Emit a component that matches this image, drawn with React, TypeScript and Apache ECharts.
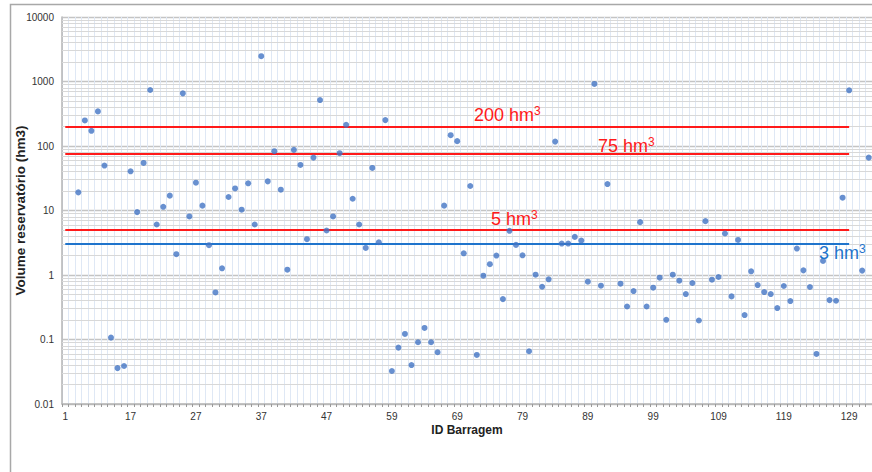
import React, { useEffect, useRef } from "react";
import * as echarts from "echarts";

// Dam IDs (category axis), one per column of the chart
const damIds: number[] = [
  1, 8, 9, 10, 11, 12, 13, 14, 15, 16,
  17, 18, 19, 20, 21, 22, 23, 24, 25, 26,
  27, 28, 29, 30, 31, 32, 33, 34, 35, 36,
  37, 38, 39, 40, 41, 42, 43, 44, 45, 46,
  47, 48, 49, 50, 51, 53, 54, 55, 56, 58,
  59, 60, 61, 62, 63, 64, 65, 66, 67, 68,
  69, 70, 71, 72, 73, 74, 75, 76, 77, 78,
  79, 80, 81, 82, 83, 84, 85, 86, 87, 88,
  89, 90, 91, 92, 93, 94, 95, 96, 97, 98,
  99, 100, 101, 102, 103, 104, 105, 106, 107, 108,
  109, 110, 111, 112, 113, 114, 115, 116, 117, 118,
  119, 120, 121, 122, 123, 124, 125, 126, 127, 128,
  129, 130, 131, 132,
];

// Reservoir volume (hm3) per dam, same order as damIds
const volumes: (number | null)[] = [
  null, null, 19.1, 249, 172, 344, 49.7, 0.107, 0.036, 0.0388,
  40.5, 9.44, 54.6, 738, 6.07, 11.4, 17.0, 2.1, 655, 8.09,
  27.0, 11.9, 2.9, 0.537, 1.27, 16.2, 22.0, 10.3, 26.4, 6.07,
  2466, 28.3, 83, 21.0, 1.21, 87, 50.9, 3.59, 66.1, 516,
  4.9, 8.09, 77.3, 213, 15.2, 6.07, 2.63, 45.7, 3.22, 252,
  0.0325, 0.0749, 0.122, 0.0402, 0.0906, 0.151, 0.0906, 0.0634, 11.9, 147,
  119, 2.17, 24, 0.0576, 0.976, 1.47, 2.0, 0.423, 4.84, 2.93,
  2.02, 0.0657, 1.01, 0.658, 0.857, 117, 3.07, 3.07, 3.9, 3.42,
  0.787, 916, 0.682, 25.7, null, 0.733, 0.325, 0.564, 6.6, 0.325,
  0.635, 0.909, 0.202, 1.01, 0.816, 0.506, 0.751, 0.197, 6.84, 0.846,
  0.931, 4.4, 0.466, 3.5, 0.239, 1.14, 0.699, 0.544, 0.506, 0.307,
  0.675, 0.394, 2.57, 1.18, 0.651, 0.0597, 1.65, 0.408, 0.399, 15.8,
  730, null, 1.17, 66,
];

// Threshold lines (hm3)
const redThresholds: number[] = [200, 75, 5];
const blueThresholds: number[] = [3];
const thresholdStartId = "1";
const thresholdEndId = "129";

// Log axis decades
const decadeExponents: number[] = [-2, -1, 0, 1, 2, 3];
const minorMultipliers: number[] = [2, 3, 4, 5, 6, 7, 8, 9];

const FONT = "'Liberation Sans', Arial, Helvetica, sans-serif";
const RED = "#ff1a1a";
const BLUE = "#1f74cc";

export default function App() {
  const ref = useRef<HTMLDivElement>(null);

  useEffect(() => {
    if (!ref.current) return;
    const chart = echarts.init(ref.current, undefined, { renderer: "svg" });

    const minorVals: number[] = [];
    decadeExponents.forEach((e) =>
      minorMultipliers.forEach((m) => minorVals.push(+(m * Math.pow(10, e)).toPrecision(3)))
    );

    const refLine = (v: number, color: string) => [
      { coord: [thresholdStartId, v], lineStyle: { color, width: 2, type: "solid" } },
      { coord: [thresholdEndId, v] },
    ];

    const fmt = (v: number) => {
      if (v >= 1) return String(Math.round(v));
      return String(+v.toPrecision(1));
    };

    const annot = (text: string, x: number, y: number, color: string) => ({
      type: "text",
      z: 20,
      x,
      y,
      style: {
        text: `{b|${text}}{s|3}`,
        fill: color,
        fontFamily: FONT,
        verticalAlign: "middle",
        rich: {
          b: { fontSize: 18, fill: color, fontFamily: FONT, lineHeight: 20 },
          s: { fontSize: 12, fill: color, fontFamily: FONT, lineHeight: 20, verticalAlign: "top", padding: [0, 0, 6, 0] },
        },
      },
    });

    const option: any = {
      animation: false,
      textStyle: { fontFamily: FONT },
      grid: { left: 62, right: 0, top: 17, bottom: 68, containLabel: false, outerBoundsMode: "none" },
      xAxis: {
        type: "category",
        data: damIds.map(String),
        boundaryGap: true,
        name: "ID Barragem",
        nameLocation: "middle",
        nameGap: 20,
        nameMoveOverlap: false,
        nameTextStyle: { fontWeight: "bold", fontSize: 12, color: "#222", fontFamily: FONT },
        axisLine: { onZero: false, lineStyle: { color: "#b4b4b4", width: 1.5 } },
        axisTick: { show: true, interval: 0, length: 3, lineStyle: { color: "#9a9a9a" } },
        axisLabel: { interval: 9, color: "#333", fontSize: 10, margin: 7, fontFamily: FONT },
        splitLine: { show: true, interval: 0, lineStyle: { color: "#dfe8f5", width: 1 } },
      },
      yAxis: {
        type: "log",
        logBase: 10,
        min: 0.01,
        max: 10000,
        splitNumber: 6,
        name: "Volume reservatório (hm3)",
        nameLocation: "middle",
        nameGap: 35,
        nameMoveOverlap: false,
        nameTextStyle: { fontWeight: "bold", fontSize: 13.5, color: "#222", fontFamily: FONT },
        axisLine: { show: true, lineStyle: { color: "#b4b4b4", width: 1.5 } },
        axisTick: { show: false },
        axisLabel: { color: "#333", fontSize: 10, margin: 8, formatter: fmt, fontFamily: FONT },
        splitLine: { show: true, lineStyle: { color: "#c4c4c4", width: 1.3 } },
      },
      series: [
        {
          type: "line",
          name: "minorGrid",
          data: [],
          z: 1,
          silent: true,
          markLine: {
            silent: true,
            symbol: "none",
            label: { show: false },
            lineStyle: { color: "#d8d8d8", width: 1, type: "solid" },
            data: minorVals.map((v) => ({ yAxis: v })),
          },
        },
        {
          type: "line",
          name: "thresholds",
          data: [],
          z: 3,
          silent: true,
          markLine: {
            silent: true,
            symbol: "none",
            label: { show: false },
            lineStyle: { width: 2, type: "solid" },
            data: [
              ...redThresholds.map((v) => refLine(v, RED)),
              ...blueThresholds.map((v) => refLine(v, BLUE)),
            ],
          },
        },
        {
          type: "scatter",
          name: "Volume",
          data: volumes,
          z: 5,
          symbol: "circle",
          symbolSize: 6,
          itemStyle: { color: "#4274c4" },
        },
      ],
      graphic: [
        {
          type: "rect",
          z: 0,
          silent: true,
          shape: { x: 10.5, y: 4.5, width: 900, height: 500 },
          style: { fill: "none", stroke: "#a8a8a8", lineWidth: 1.5 },
        },
        annot("200 hm", 474, 115, RED),
        annot("75 hm", 598, 145.5, RED),
        annot("5 hm", 491, 219, RED),
        annot("3 hm", 819, 253, BLUE),
      ],
    };

    chart.setOption(option);
    return () => chart.dispose();
  }, []);

  return (
    <div
      ref={ref}
      style={{ position: "fixed", left: 0, top: 0, width: 872, height: 472, background: "#fff" }}
    />
  );
}
